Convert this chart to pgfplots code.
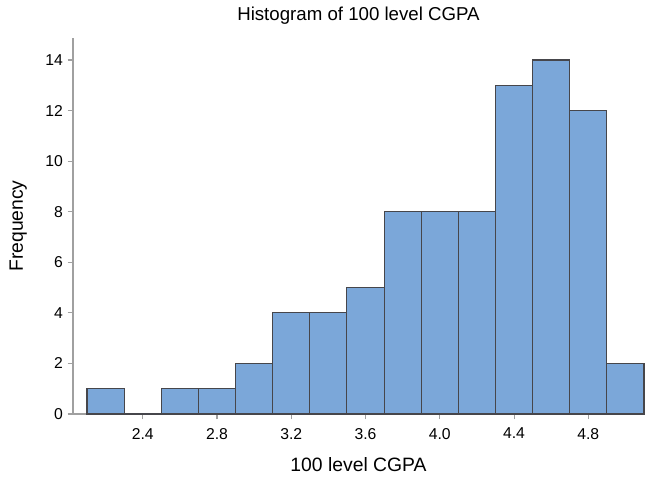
\documentclass[border=0pt]{standalone}
\usepackage{fontspec}
\setmainfont{Liberation Sans}
\usepackage{pgfplots}
\pgfplotsset{compat=1.18}
\definecolor{barfill}{RGB}{123,167,217}
\definecolor{baredge}{RGB}{70,70,75}
\definecolor{axgray}{RGB}{160,160,160}
\begin{document}
\begin{tikzpicture}[x=1pt,y=1pt]
\begin{axis}[
  scale only axis,
  width=428.25pt, height=282pt,
  at={(0,0)}, anchor=south west,
  xmin=2.0245, xmax=5.1,
  ymin=0, ymax=14.87,
  clip=false,
  axis x line*=bottom, axis y line*=left,
  axis line style={axgray, line width=0.8pt, -},
  tick style={axgray, line width=0.8pt},
  tick align=outside,
  major tick length=4pt,
  xtick={2.4,2.8,...,4.8},
  ytick={0,2,...,14},
  xticklabel style={/pgf/number format/.cd,fixed,fixed zerofill,precision=1,
    /tikz/yshift=-3pt},
  /pgf/number format/assume math mode=true,
  ticklabel style={font=\fontsize{11.8}{13}\selectfont},
  xlabel={100 level CGPA},
  ylabel={Frequency},
  xlabel style={font=\fontsize{14.5}{16}\selectfont, yshift=-7pt},
  ylabel style={font=\fontsize{14.5}{16}\selectfont, yshift=7pt},
  title={Histogram of 100 level CGPA},
  title style={font=\fontsize{14}{16}\selectfont, yshift=1pt},
  ybar, bar width=0.2, bar shift=0pt,
]
\addplot[fill=barfill, draw=baredge, line width=0.8pt] coordinates {
 (2.2,1) (2.4,0) (2.6,1) (2.8,1) (3.0,2) (3.2,4) (3.4,4) (3.6,5)
 (3.8,8) (4.0,8) (4.2,8) (4.4,13) (4.6,14) (4.8,12) (5.0,2)
};
\end{axis}
\useasboundingbox (-54.75pt,-50.25pt) rectangle (434.25pt,310.5pt);
\end{tikzpicture}
\end{document}
